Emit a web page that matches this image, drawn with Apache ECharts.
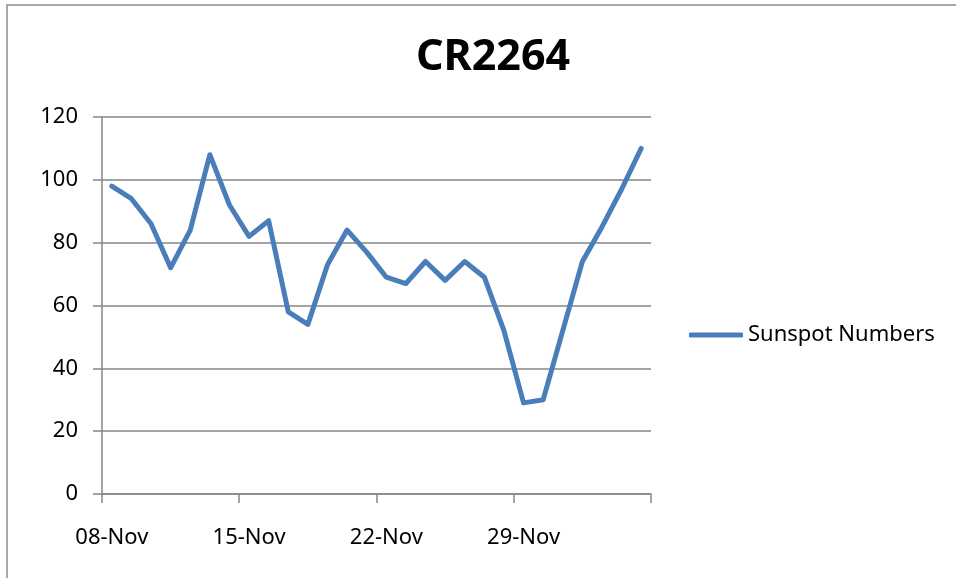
<!DOCTYPE html>
<html>
<head>
<meta charset="utf-8">
<title>CR2264</title>
<script src="https://cdn.jsdelivr.net/npm/echarts@6/dist/echarts.min.js"></script>
<style>
  html, body { margin: 0; padding: 0; background: #fff; }
  #chart { width: 956px; height: 578px; }
</style>
</head>
<body>
<div id="chart"></div>
<script>
// days of the rotation, 08-Nov .. 05-Dec
var days = ['08-Nov','09-Nov','10-Nov','11-Nov','12-Nov','13-Nov','14-Nov',
	'15-Nov','16-Nov','17-Nov','18-Nov','19-Nov','20-Nov','21-Nov',
	'22-Nov','23-Nov','24-Nov','25-Nov','26-Nov','27-Nov','28-Nov',
	'29-Nov','30-Nov','01-Dec','02-Dec','03-Dec','04-Dec','05-Dec'];
// daily sunspot numbers
var sunspots = [98,94,86,72,84,108,92,82,87,58,54,73,84,77,
	69,67,74,68,74,69,52,29,30,52,74,85,97,110];
var yTicks = [0,20,40,60,80,100,120];

var axisGray = '#868686';
var font = 'Noto Sans';

var myChart = echarts.init(document.getElementById('chart'));
var option = {
	backgroundColor : '#fff',
	animation : false,
	title : {
		text : 'CR2264',
		left : 488,
		textAlign : 'center',
		top : 31,
		textStyle : { fontFamily : font, fontSize : 43, fontWeight : 'bold', color : '#000' }
	},
	legend : {
		left : 684,
		top : 319,
		itemWidth : 54,
		itemHeight : 5,
		icon : 'roundRect',
		textStyle : { fontFamily : font, fontSize : 22, color : '#000' },
		data : ['Sunspot Numbers']
	},
	grid : { left : 102, right : 305, top : 117, bottom : 84 },
	xAxis : {
		type : 'category',
		boundaryGap : true,
		data : days,
		axisLine : { lineStyle : { color : axisGray, width : 1.5 } },
		// a tick at every week boundary
		axisTick : { show : true, alignWithLabel : false, interval : 6, length : 9, lineStyle : { color : axisGray, width : 1.5 } },
		axisLabel : { interval : 6, margin : 33, fontFamily : font, fontSize : 22, color : '#000' }
	},
	yAxis : {
		type : 'value',
		min : yTicks[0],
		max : yTicks[yTicks.length - 1],
		interval : 20,
		axisLine : { show : true, lineStyle : { color : axisGray, width : 1.5 } },
		axisTick : { show : true, inside : false, length : 9, lineStyle : { color : axisGray, width : 1.5 } },
		axisLabel : { margin : 24, fontFamily : font, fontSize : 22, color : '#000' },
		splitLine : { lineStyle : { color : axisGray, width : 1.5 } }
	},
	series : [{
		name : 'Sunspot Numbers',
		type : 'line',
		data : sunspots,
		symbol : 'none',
		lineStyle : { color : '#4a7ebb', width : 5, cap : 'round', join : 'round' },
		itemStyle : { color : '#4a7ebb' }
	}],
	// chart area frame, clipped by the window on the right and bottom
	graphic : [{
		type : 'polyline',
		shape : { points : [[7, 600], [7, 5], [980, 5]] },
		style : { stroke : '#8c8c8c', lineWidth : 1.5, fill : null }
	}]
};
myChart.setOption(option);
</script>
</body>
</html>
